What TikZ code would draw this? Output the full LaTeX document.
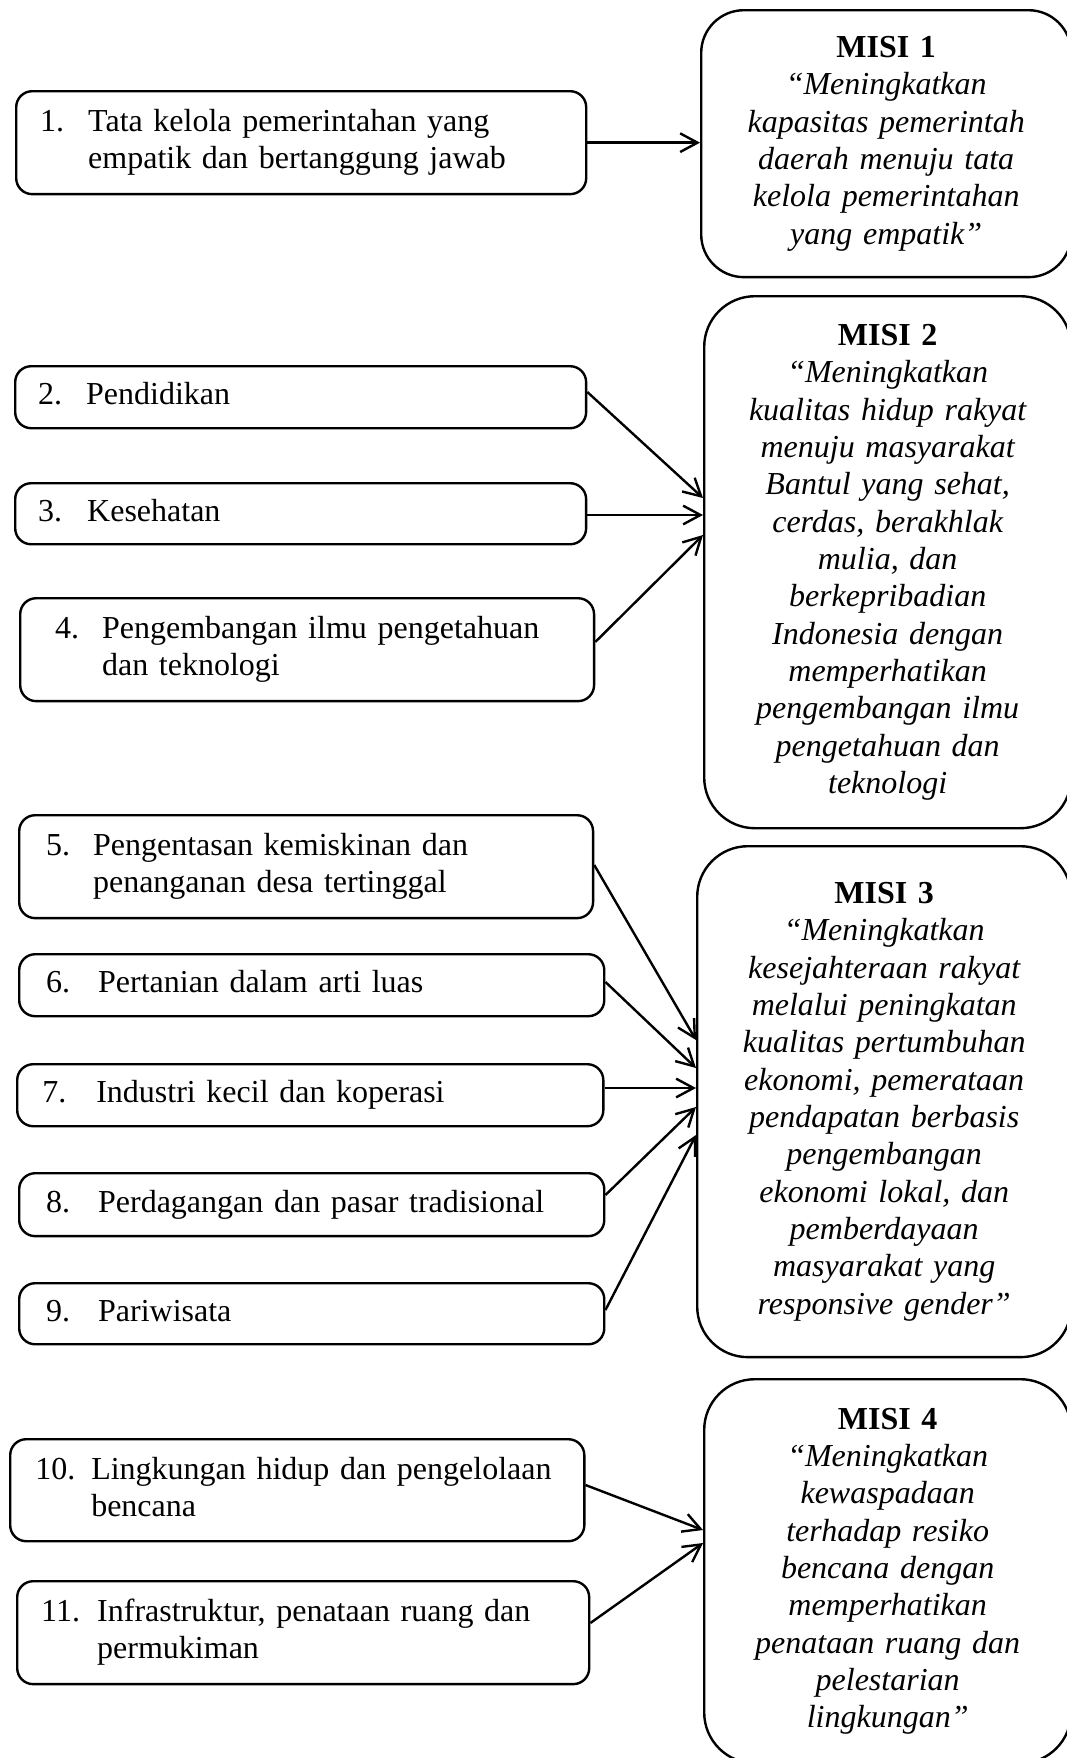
\documentclass[tikz,border=0pt]{standalone}
\usepackage{fontspec}
\setmainfont{Liberation Serif}
\usepackage{tikz}
\usetikzlibrary{arrows.meta,positioning,calc}

% number column plus the item text
\newcommand{\itemtxt}[3]{\makebox[#1][l]{#2}\begin{tabular}[t]{@{}l@{}}#3\end{tabular}}

\tikzset{
  itembox/.style={draw,line width=0.9pt,rounded corners=6pt,align=left,anchor=north west,
    inner ysep=0pt,font=\fontsize{12}{14}\selectfont},
  misibox/.style={draw,line width=0.9pt,rounded corners=19pt,align=center,anchor=north west,
    text width=130pt,inner sep=0pt,font=\fontsize{12}{14}\selectfont\itshape},
  arr/.style={line width=0.9pt,-{Straight Barb[length=6.5pt,width=7pt]}},
}

\begin{document}
\begin{tikzpicture}[x=0.375pt,y=-0.375pt]
  \useasboundingbox (0,0) rectangle (1067,1758);

  % program boxes
  \node[itembox,inner xsep=9pt,text width=195.75pt,minimum height=38.6pt] (b1) at (15,90)
    {\itemtxt{18pt}{1.}{Tata kelola pemerintahan yang\\empatik dan bertanggung jawab}};
  \node[itembox,inner xsep=8.6pt,text width=196.9pt,minimum height=23.25pt] (b2) at (14,365)
    {\itemtxt{18pt}{2.}{Pendidikan}};
  \node[itembox,inner xsep=8.6pt,text width=196.9pt,minimum height=22.9pt] (b3) at (14,482)
    {\itemtxt{18.4pt}{3.}{Kesehatan}};
  \node[itembox,inner xsep=13.1pt,text width=189pt,minimum height=38.6pt] (b4) at (19,597)
    {\itemtxt{17.6pt}{4.}{Pengembangan ilmu pengetahuan\\dan teknologi}};
  \node[itembox,inner xsep=10.1pt,text width=195pt,minimum height=38.6pt] (b5) at (18,814)
    {\itemtxt{17.6pt}{5.}{Pengentasan kemiskinan dan\\penanganan desa tertinggal}};
  \node[itembox,inner xsep=10.1pt,text width=199.2pt,minimum height=23.25pt] (b6) at (18,953)
    {\itemtxt{19.5pt}{6.}{Pertanian dalam arti luas}};
  \node[itembox,inner xsep=9.4pt,text width=201pt,minimum height=23.25pt] (b7) at (16,1063)
    {\itemtxt{20.25pt}{7.}{Industri kecil dan koperasi}};
  \node[itembox,inner xsep=10.1pt,text width=199.2pt,minimum height=23.6pt] (b8) at (18,1172)
    {\itemtxt{19.5pt}{8.}{Perdagangan dan pasar tradisional}};
  \node[itembox,inner xsep=10.1pt,text width=199.2pt,minimum height=22.9pt] (b9) at (18,1282)
    {\itemtxt{19.5pt}{9.}{Pariwisata}};
  \node[itembox,inner xsep=9.4pt,text width=196.5pt,minimum height=38.25pt] (b10) at (9,1438)
    {\itemtxt{21pt}{10.}{Lingkungan hidup dan pengelolaan\\bencana}};
  \node[itembox,inner xsep=9pt,text width=196.5pt,minimum height=38.6pt] (b11) at (16,1580)
    {\itemtxt{21pt}{11.}{Infrastruktur, penataan ruang dan\\permukiman}};

  % misi boxes
  \node[misibox,minimum width=138.75pt,minimum height=100.1pt,rounded corners=16pt] (m1) at (700,9)
    {\textbf{\upshape MISI 1}\\“Meningkatkan\\kapasitas pemerintah\\daerah menuju tata\\kelola pemerintahan\\yang empatik”};
  \node[misibox,minimum width=137.6pt,minimum height=199.5pt] (m2) at (703,295)
    {\textbf{\upshape MISI 2}\\“Meningkatkan\\kualitas hidup rakyat\\menuju masyarakat\\Bantul yang sehat,\\cerdas, berakhlak\\mulia, dan\\berkepribadian\\Indonesia dengan\\memperhatikan\\pengembangan ilmu\\pengetahuan dan\\teknologi};
  \node[misibox,minimum width=140.25pt,minimum height=191.6pt] (m3) at (696,845)
    {\textbf{\upshape MISI 3}\\“Meningkatkan\\kesejahteraan rakyat\\melalui peningkatan\\kualitas pertumbuhan\\ekonomi, pemerataan\\pendapatan berbasis\\pengembangan\\ekonomi lokal, dan\\pemberdayaan\\masyarakat yang\\responsive gender”};
  \node[misibox,minimum width=137.6pt,minimum height=144pt] (m4) at (703,1378)
    {\textbf{\upshape MISI 4}\\“Meningkatkan\\kewaspadaan\\terhadap resiko\\bencana dengan\\memperhatikan\\penataan ruang dan\\pelestarian\\lingkungan”};

  % arrows
  \draw[arr] (b1.east) -- (b1.east -| m1.west);
  \draw[arr] (b2.east |- 0,392) -- (m2.west |- 0,498);
  \draw[arr] (b3.east |- 0,515) -- (m2.west |- 0,515);
  \draw[arr] (b4.east |- 0,642) -- (m2.west |- 0,535);
  \draw[arr] (b5.east |- 0,865) -- (m3.west |- 0,1040);
  \draw[arr] (b6.east |- 0,982) -- (m3.west |- 0,1068);
  \draw[arr] (b7.east |- 0,1088) -- (m3.west |- 0,1088);
  \draw[arr] (b8.east |- 0,1195) -- (m3.west |- 0,1107);
  \draw[arr] (b9.east |- 0,1310) -- (m3.west |- 0,1135);
  \draw[arr] (b10.east |- 0,1485) -- (m4.west |- 0,1530);
  \draw[arr] (b11.east |- 0,1623) -- (m4.west |- 0,1543);
\end{tikzpicture}
\end{document}
